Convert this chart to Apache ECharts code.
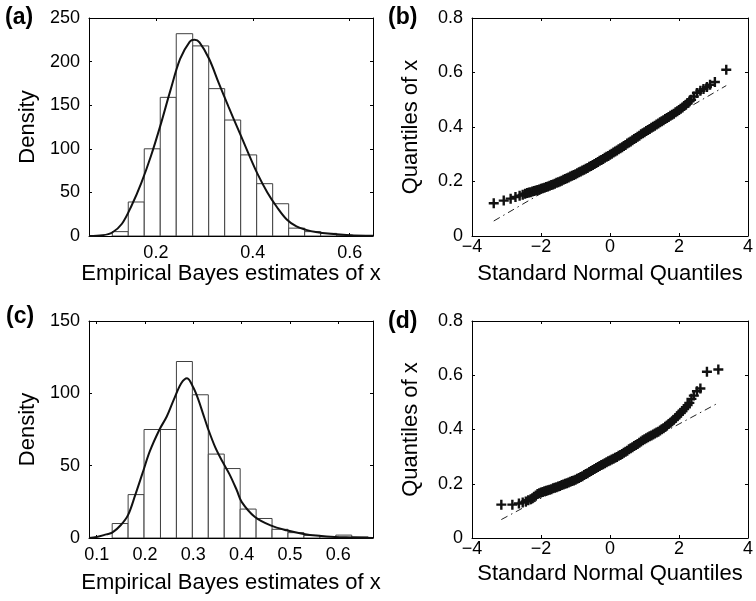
<!DOCTYPE html>
<html><head><meta charset="utf-8">
<script src="https://cdn.jsdelivr.net/npm/echarts@6/dist/echarts.min.js"></script>
<style>html,body{margin:0;padding:0;background:#fff}#c{width:756px;height:601px}</style>
</head><body><div id="c"></div>
<script>
// ---------- DATA ----------
// (a) histogram
const edgesA = [0.110,0.143,0.176,0.209,0.242,0.276,0.309,0.342,0.375,0.408,0.441,0.474,0.507,0.540,0.573,0.606];
const countsA = [5,39,100,159,232,218,169,133,93,60,37,9,5,3,1];
const curveAx = [0.062,0.09,0.11,0.13,0.15,0.17,0.19,0.21,0.23,0.25,0.27,0.28,0.29,0.31,0.33,0.35,0.37,0.39,0.41,0.43,0.45,0.47,0.49,0.51,0.53,0.56,0.60,0.648];
const curveAy = [0,0.8,4,14,35,61,92,128,167,203,223,225,222,203,175,148,122,96,71,50,33,19,11,7,4.5,2.5,1,0.3];
// (c) histogram
const edgesC = [0.132,0.165,0.198,0.232,0.265,0.298,0.331,0.364,0.397,0.430,0.463,0.496,0.529,0.562,0.595,0.628,0.662];
const countsC = [10,30,75,75,122,99,58,48,20,13.5,6,3.7,1.8,1,2,0.8];
const curveCx = [0.084,0.10,0.12,0.132,0.15,0.165,0.18,0.195,0.21,0.23,0.245,0.26,0.275,0.287,0.30,0.31,0.32,0.33,0.345,0.36,0.375,0.39,0.40,0.4276,0.46,0.493,0.5255,0.56,0.593,0.63,0.672];
const curveCy = [0,0.7,2.5,3.7,9,16,30,45,60,75,84,96,107,110.5,104,96,86,76,63,53,44,33,25,14.5,8.7,5.3,3,1.5,0.7,0.4,0];
// (b) QQ plot
const qqBx = [-3.37,-3.08,-2.88,-2.74,-2.62,-2.53,-2.46,
 -2.40,-2.35,-2.30,-2.25,-2.20,-2.15,-2.10,-2.05,-2.00,-1.95,-1.90,-1.85,-1.80,-1.75,-1.70,-1.65,-1.60,-1.55,-1.50,-1.45,-1.40,-1.35,-1.30,-1.25,-1.20,-1.15,-1.10,-1.05,-1.00,-0.95,-0.90,-0.85,-0.80,-0.75,-0.70,-0.65,-0.60,-0.55,-0.50,-0.45,-0.40,-0.35,-0.30,-0.25,-0.20,-0.15,-0.10,-0.05,
 0.00,0.05,0.10,0.15,0.20,0.25,0.30,0.35,0.40,0.45,0.50,0.55,0.60,0.65,0.70,0.75,0.80,0.85,0.90,0.95,1.00,1.05,1.10,1.15,1.20,1.25,1.30,1.35,1.40,1.45,1.50,1.55,1.60,1.65,1.70,1.75,1.80,1.85,1.90,1.95,2.00,2.05,2.10,2.15,2.20,2.25,2.30,2.35,
 2.43,2.52,2.62,2.71,2.81,2.90,3.04,3.37];
const qqBy = [0.120,0.130,0.137,0.143,0.148,0.151,0.155,
 0.158,0.160,0.161,0.163,0.165,0.167,0.169,0.171,0.173,0.175,0.177,0.180,0.182,0.184,0.187,0.189,0.192,0.195,0.197,0.200,0.203,0.206,0.209,0.212,0.215,0.218,0.221,0.224,0.227,0.230,0.234,0.237,0.240,0.243,0.247,0.250,0.254,0.257,0.261,0.264,0.268,0.272,0.276,0.279,0.283,0.287,0.291,0.294,
 0.298,0.302,0.306,0.310,0.314,0.318,0.322,0.326,0.330,0.334,0.339,0.343,0.347,0.351,0.356,0.360,0.364,0.368,0.373,0.377,0.381,0.385,0.389,0.393,0.397,0.401,0.405,0.409,0.413,0.417,0.421,0.425,0.429,0.433,0.437,0.441,0.445,0.449,0.454,0.458,0.462,0.467,0.472,0.477,0.482,0.488,0.494,0.500,
 0.512,0.525,0.533,0.539,0.547,0.555,0.565,0.610];
const refLineBx = [-3.37, 3.37];
const refLineBy = [0.055, 0.552];
// (d) QQ plot
const qqDx = [-3.15,-2.83,-2.64,-2.53,-2.44,-2.37,
 -2.30,-2.25,-2.20,-2.15,-2.10,-2.05,-2.00,-1.95,-1.90,-1.85,-1.80,-1.75,-1.70,-1.65,-1.60,-1.55,-1.50,-1.45,-1.40,-1.35,-1.30,-1.25,-1.20,-1.15,-1.10,-1.05,-1.00,-0.95,-0.90,-0.85,-0.80,-0.75,-0.70,-0.65,-0.60,-0.55,-0.50,-0.45,-0.40,-0.35,-0.30,-0.25,-0.20,-0.15,-0.10,-0.05,
 0.00,0.05,0.10,0.15,0.20,0.25,0.30,0.35,0.40,0.45,0.50,0.55,0.60,0.65,0.70,0.75,0.80,0.85,0.90,0.95,1.00,1.05,1.10,1.15,1.20,1.25,1.30,1.35,1.40,1.45,1.50,1.55,1.60,1.65,1.70,1.75,1.80,1.85,1.90,1.95,2.00,2.05,2.10,2.15,2.20,2.25,
 2.30,2.36,2.43,2.52,2.62,2.81,3.14];
const qqDy = [0.123,0.123,0.127,0.131,0.135,0.139,
 0.143,0.147,0.152,0.157,0.162,0.165,0.168,0.170,0.172,0.174,0.176,0.178,0.180,0.183,0.185,0.187,0.190,0.192,0.195,0.197,0.200,0.202,0.205,0.207,0.210,0.212,0.215,0.218,0.221,0.225,0.228,0.232,0.236,0.239,0.243,0.247,0.251,0.254,0.258,0.262,0.265,0.269,0.272,0.276,0.279,0.283,
 0.286,0.289,0.292,0.296,0.299,0.303,0.306,0.310,0.314,0.318,0.322,0.327,0.331,0.335,0.339,0.343,0.347,0.351,0.356,0.360,0.364,0.368,0.371,0.375,0.378,0.382,0.385,0.389,0.392,0.396,0.401,0.405,0.410,0.415,0.420,0.425,0.430,0.436,0.442,0.449,0.455,0.462,0.468,0.475,0.482,0.490,
 0.498,0.513,0.525,0.541,0.551,0.613,0.621];
const refLineDx = [-3.15, 3.14];
const refLineDy = [0.068, 0.498];
// tick values
const ticksAx = [0.2,0.4,0.6];
const ticksCx = [0.1,0.2,0.3,0.4,0.5,0.6];
const panelLabels = ['(a)','(b)','(c)','(d)'];
const histXTitle = 'Empirical Bayes estimates of x';
const qqXTitle = 'Standard Normal Quantiles';
const histYTitle = 'Density';
const qqYTitle = 'Quantiles of x';

// ---------- CHART ----------
const FONT = '"Liberation Sans", Arial, Helvetica, sans-serif';
const chart = echarts.init(document.getElementById('c'), null, {renderer:'canvas'});
const zip = (a,b) => a.map((v,i)=>[v,b[i]]);
const histData = (edges, counts) => counts.map((c,i)=>[edges[i], edges[i+1], c]);
const minus = v => String(v).replace('-', '\u2212');

const grids = [
  {left:89, top:18, width:284, height:218},
  {left:472, top:18, width:284, height:218},
  {left:89, top:321, width:284, height:217},
  {left:472, top:321, width:284, height:217}
];
const lblStyle = {color:'#000', fontFamily:FONT, fontSize:18};
const nameStyle = {color:'#000', fontFamily:FONT, fontSize:22};
const tick = extra => Object.assign({show:true, inside:true, length:3, lineStyle:{color:'#000', width:1}}, extra||{});
const line = {show:true, onZero:false, lineStyle:{color:'#000', width:1}};

function xPair(gi, cfg){
  const base = {type:'value', gridIndex:gi, min:cfg.min, max:cfg.max, splitLine:{show:false}, axisLine:line};
  if (cfg.interval) base.interval = cfg.interval;
  const tk = cfg.custom ? tick({customValues:cfg.custom}) : tick();
  const main = Object.assign({}, base, {position:'bottom', axisTick:tk,
    axisLabel:Object.assign({margin:cfg.margin, formatter:cfg.fmt}, lblStyle, cfg.custom?{customValues:cfg.custom}:{}),
    name:cfg.name, nameLocation:'middle', nameGap:cfg.nameGap, nameTextStyle:nameStyle});
  const top = Object.assign({}, base, {position:'top', axisTick:tk, axisLabel:{show:false}});
  return [main, top];
}
function yPair(gi, cfg){
  const base = {type:'value', gridIndex:gi, min:cfg.min, max:cfg.max, interval:cfg.interval, splitLine:{show:false}, axisLine:line};
  const main = Object.assign({}, base, {position:'left', axisTick:tick(),
    axisLabel:Object.assign({margin:cfg.margin, formatter:cfg.fmt}, lblStyle),
    name:cfg.name, nameLocation:'middle', nameGap:cfg.nameGap, nameTextStyle:nameStyle});
  const right = Object.assign({}, base, {position:'right', axisTick:tick(), axisLabel:{show:false}});
  return [main, right];
}
const fmt1 = v => v.toFixed(1);
const fmtQ = v => v === 0 ? '0' : v.toFixed(1);

const xAxes = [].concat(
  xPair(0, {min:0.062, max:0.648, custom:ticksAx, fmt:fmt1, margin:8, name:histXTitle, nameGap:27}),
  xPair(1, {min:-4, max:4, interval:2, fmt:minus, margin:2, name:qqXTitle, nameGap:27}),
  xPair(2, {min:0.084, max:0.672, custom:ticksCx, fmt:fmt1, margin:8, name:histXTitle, nameGap:34}),
  xPair(3, {min:-4, max:4, interval:2, fmt:minus, margin:2, name:qqXTitle, nameGap:25})
);
const yAxes = [].concat(
  yPair(0, {min:0, max:250, interval:50, margin:9, name:histYTitle, nameGap:50}),
  yPair(1, {min:0, max:0.8, interval:0.2, fmt:fmtQ, margin:9, name:qqYTitle, nameGap:50}),
  yPair(2, {min:0, max:150, interval:50, margin:9, name:histYTitle, nameGap:50}),
  yPair(3, {min:0, max:0.8, interval:0.2, fmt:fmtQ, margin:9, name:qqYTitle, nameGap:50})
);

function histSeries(gi, edges, counts){
  return {type:'custom', xAxisIndex:2*gi, yAxisIndex:2*gi, clip:true, z:2,
    data:histData(edges, counts), encode:{x:[0,1], y:2},
    renderItem:(params, api)=>{
      const p0 = api.coord([api.value(0), api.value(2)]);
      const p1 = api.coord([api.value(1), 0]);
      return {type:'rect', shape:{x:p0[0], y:p0[1], width:p1[0]-p0[0], height:p1[1]-p0[1]},
        style:{fill:'#fff', stroke:'#404040', lineWidth:1}};
    }};
}
function curveSeries(gi, xs, ys){
  return {type:'line', xAxisIndex:2*gi, yAxisIndex:2*gi, data:zip(xs, ys), smooth:0.35,
    symbol:'none', z:5, lineStyle:{color:'#111', width:2}};
}
const PLUS = 'path://M-1,-0.24L-0.24,-0.24L-0.24,-1L0.24,-1L0.24,-0.24L1,-0.24L1,0.24L0.24,0.24L0.24,1L-0.24,1L-0.24,0.24L-1,0.24Z';
function qqSeries(gi, xs, ys){
  return {type:'scatter', xAxisIndex:2*gi, yAxisIndex:2*gi, data:zip(xs, ys), symbol:PLUS,
    symbolSize:10, z:5, itemStyle:{color:'#111', opacity:1}};
}
function refSeries(gi, xs, ys){
  return {type:'line', xAxisIndex:2*gi, yAxisIndex:2*gi, data:zip(xs, ys), symbol:'none', z:4,
    lineStyle:{color:'#222', width:1, type:[7,4,1.5,4]}};
}

const labelPos = [[5,18],[388,18],[6,317],[388,322]];
chart.setOption({
  animation:false,
  backgroundColor:'#fff',
  grid:grids.map(g=>Object.assign({show:false, containLabel:false}, g)),
  xAxis:xAxes,
  yAxis:yAxes,
  graphic:panelLabels.map((t,i)=>({type:'text', x:labelPos[i][0], y:labelPos[i][1],
    style:{text:t, fill:'#000', font:'bold 23px ' + FONT, verticalAlign:'middle'}})),
  series:[
    histSeries(0, edgesA, countsA), curveSeries(0, curveAx, curveAy),
    refSeries(1, refLineBx, refLineBy), qqSeries(1, qqBx, qqBy),
    histSeries(2, edgesC, countsC), curveSeries(2, curveCx, curveCy),
    refSeries(3, refLineDx, refLineDy), qqSeries(3, qqDx, qqDy)
  ]
});
</script></body></html>
